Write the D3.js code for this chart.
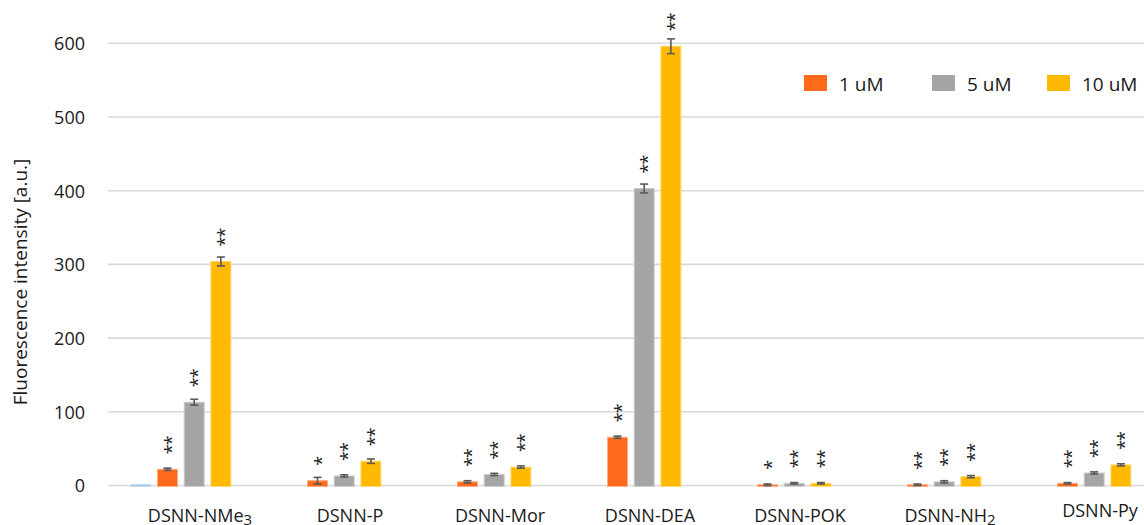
<!DOCTYPE html>
<html>
<head>
<meta charset="utf-8">
<script src="https://cdn.jsdelivr.net/npm/d3@7"></script>
<style>
  html, body { margin: 0; padding: 0; background: #ffffff; }
  svg { display: block; font-family: "Open Sans", sans-serif; }
</style>
</head>
<body>
<svg id="chart" width="1144" height="525"></svg>
<script>
// Probe names (a trailing digit is drawn as a subscript)
const categories = ["DSNN-NMe3", "DSNN-P", "DSNN-Mor", "DSNN-DEA", "DSNN-POK", "DSNN-NH2", "DSNN-Py"];

// Series keys and legend names
const seriesKeys = ["ctrl", "c1", "c5", "c10"];
const seriesNames = ["", "1 uM", "5 uM", "10 uM"];
const seriesColors = ["#9dc3e6", "#ff6a1a", "#a5a5a5", "#ffba00"];

// Mean fluorescence intensity [a.u.] per probe
const ctrlValues = [1.5, 0, 0, 0, 0, 0, 0];
const c1Values  = [22, 6.5, 5, 65.5, 1, 1, 3];
const c5Values  = [113, 13, 15, 403, 3, 5, 17];
const c10Values = [304, 33, 25, 596, 3, 12, 28];

// Error bar half-widths
const ctrlErrors = [0, 0, 0, 0, 0, 0, 0];
const c1Errors  = [1.5, 4.5, 1.5, 1.5, 1, 1, 1];
const c5Errors  = [4, 1.5, 1.5, 6, 1, 1.5, 1.5];
const c10Errors = [6, 3, 1.5, 10, 1, 1.5, 1.5];

// Significance marks
const ctrlStars = ["", "", "", "", "", "", ""];
const c1Stars  = ["**", "*", "**", "**", "*", "**", "**"];
const c5Stars  = ["**", "**", "**", "**", "**", "**", "**"];
const c10Stars = ["**", "**", "**", "**", "**", "**", "**"];

// Y axis ticks
const yTicks = [0, 100, 200, 300, 400, 500, 600];

const valuesBySeries = [ctrlValues, c1Values, c5Values, c10Values];
const errorsBySeries = [ctrlErrors, c1Errors, c5Errors, c10Errors];
const starsBySeries  = [ctrlStars, c1Stars, c5Stars, c10Stars];

const svg = d3.select("#chart");

const y = d3.scaleLinear().domain([0, 600]).range([485.5, 43.3]);
const x = d3.scaleBand().domain(categories).range([125, 1175]);
const xs = d3.scaleBand().domain(seriesKeys).range([5.3, 5.3 + 26.7 * 4 - 5.7]).paddingInner(0.2135);

// Gridlines and tick labels
const yAxis = d3.axisLeft(y).tickValues(yTicks).tickSize(0).tickPadding(0);
const yg = svg.append("g").attr("transform", "translate(85,0)").call(yAxis);
yg.select(".domain").remove();
yg.selectAll("text")
  .attr("font-family", "Open Sans, sans-serif")
  .attr("font-size", 18)
  .attr("fill", "#1a1a1a")
  .attr("dy", "0.36em");

svg.append("g")
  .selectAll("line")
  .data(yTicks)
  .join("line")
  .attr("x1", 108)
  .attr("x2", 1144)
  .attr("y1", d => y(d))
  .attr("y2", d => y(d))
  .attr("stroke", "#d9d9d9")
  .attr("stroke-width", 1.6);

// Y axis title
svg.append("text")
  .attr("transform", "translate(26.5,282) rotate(-90)")
  .attr("text-anchor", "middle")
  .attr("font-size", 19)
  .attr("fill", "#1a1a1a")
  .text("Fluorescence intensity [a.u.]");

// Bars, error bars and significance marks
const rows = [];
seriesKeys.forEach((k, si) => {
  categories.forEach((c, ci) => {
    rows.push({
      key: k, cat: c,
      value: valuesBySeries[si][ci],
      err: errorsBySeries[si][ci],
      stars: starsBySeries[si][ci],
      color: seriesColors[si]
    });
  });
});

const bx = d => x(d.cat) + xs(d.key);
const bw = xs.bandwidth();

svg.append("g")
  .selectAll("rect")
  .data(rows.filter(d => d.value > 0))
  .join("rect")
  .attr("x", d => bx(d) + 0.5)
  .attr("y", d => y(d.value))
  .attr("width", bw - 1)
  .attr("height", d => y(0) - y(d.value) + 1)
  .attr("fill", d => d.color)
  .attr("stroke", d => d3.interpolateRgb(d.color, "#ffffff")(0.45))
  .attr("stroke-width", 1);

const eb = svg.append("g")
  .attr("stroke", "#595959")
  .attr("stroke-width", 1.6)
  .attr("fill", "none");
rows.filter(d => d.err > 0).forEach(d => {
  const cx = bx(d) + bw / 2;
  const top = y(d.value + d.err), bot = y(Math.max(0, d.value - d.err));
  eb.append("line").attr("x1", cx).attr("x2", cx).attr("y1", top).attr("y2", bot);
  eb.append("line").attr("x1", cx - 4).attr("x2", cx + 4).attr("y1", top).attr("y2", top);
  eb.append("line").attr("x1", cx - 4).attr("x2", cx + 4).attr("y1", bot).attr("y2", bot);
});

// Asterisks are stacked vertically: each mark string is set along a rotated baseline
const sg = svg.append("g")
  .attr("font-size", 18)
  .attr("fill", "#222222")
  .attr("text-anchor", "start");
rows.filter(d => d.stars).forEach(d => {
  const cx = bx(d) + bw / 2;
  const bottom = y(d.value) - 15;
  sg.append("text")
    .attr("transform", `translate(${cx},${bottom}) rotate(-90)`)
    .attr("dy", "0.56em")
    .attr("letter-spacing", -1)
    .text(d.stars);
});

// Category labels
const lg = svg.append("g")
  .attr("font-size", 18)
  .attr("fill", "#1a1a1a")
  .attr("text-anchor", "middle");
categories.forEach((c, i) => {
  const m = c.match(/^(.*?)(\d*)$/);
  const last = i === categories.length - 1;
  const t = lg.append("text")
    .attr("x", x(c) + x.bandwidth() / 2)
    .attr("y", last ? 516.5 : 521.5);
  t.append("tspan").text(m[1]);
  if (m[2]) {
    t.append("tspan").attr("font-size", 15).attr("dy", 3).text(m[2]);
  }
});

// Legend
const legendX = [804, 932, 1047];
const lgd = svg.append("g");
seriesKeys.slice(1).forEach((k, i) => {
  const g = lgd.append("g").attr("transform", `translate(${legendX[i]},75)`);
  g.append("rect").attr("width", 23).attr("height", 16).attr("fill", seriesColors[i + 1]);
  g.append("text")
    .attr("x", 35)
    .attr("y", 15.5)
    .attr("font-size", 19)
    .attr("fill", "#1a1a1a")
    .text(seriesNames[i + 1]);
});
</script>
</body>
</html>
